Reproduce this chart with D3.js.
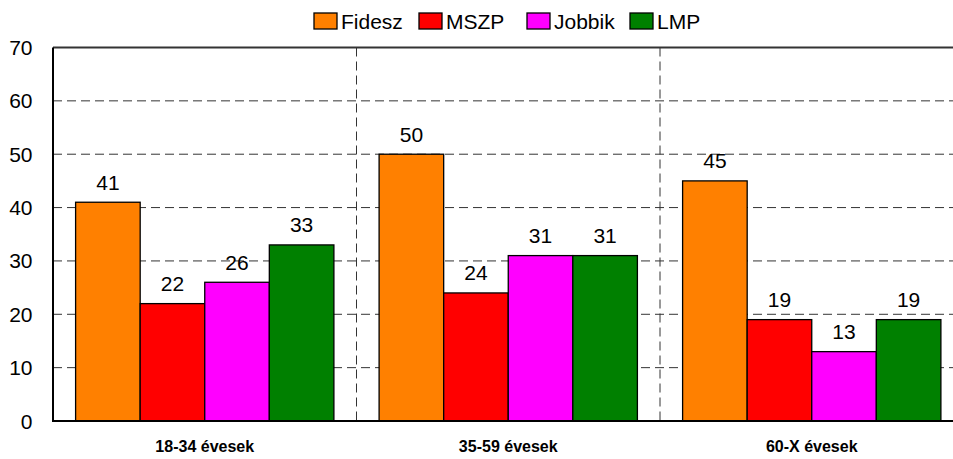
<!DOCTYPE html>
<html>
<head>
<meta charset="utf-8">
<script src="https://cdn.jsdelivr.net/npm/d3@7"></script>
<style>
  body { margin: 0; background: #fff; }
  text { font-family: "Liberation Sans", Arial, sans-serif; }
</style>
</head>
<body>
<div id="chart"></div>
<script>
// data
var groups = ["18-34 évesek", "35-59 évesek", "60-X évesek"];
var parties = ["Fidesz", "MSZP", "Jobbik", "LMP"];
var colors = ["#FF8000", "#FF0000", "#FF00FF", "#008000"];
var fidesz = [41, 50, 45];
var mszp = [22, 24, 19];
var jobbik = [26, 31, 13];
var lmp = [33, 31, 19];
var yTicks = [0, 10, 20, 30, 40, 50, 60, 70];

var series = [fidesz, mszp, jobbik, lmp];

// set the dimensions and margins of the graph
var margin = {top: 47.5, left: 53},
    width = 910.5,
    height = 373.5;

var svg = d3.select("#chart")
  .append("svg")
    .attr("width", 953)
    .attr("height", 459)
  .append("g")
    .attr("transform", "translate(" + margin.left + "," + margin.top + ")");

var x0 = d3.scaleBand()
  .domain(groups)
  .range([0, width]);

var pad = 22.6;
var x1 = d3.scaleBand()
  .domain(parties)
  .range([pad, x0.bandwidth() - pad]);

var y = d3.scaleLinear()
  .domain([0, 70])
  .range([height, 0]);

// horizontal dashed grid
svg.append("g")
  .selectAll("line")
  .data(yTicks.filter(d => d > 0 && d < 70))
  .enter()
  .append("line")
    .attr("x1", 0)
    .attr("x2", width)
    .attr("y1", d => y(d))
    .attr("y2", d => y(d))
    .style("stroke", "#333")
    .style("stroke-width", 1)
    .style("stroke-dasharray", "9,5");

// vertical dashed separators
svg.append("g")
  .selectAll("line")
  .data(groups.slice(1))
  .enter()
  .append("line")
    .attr("x1", d => x0(d))
    .attr("x2", d => x0(d))
    .attr("y1", 0)
    .attr("y2", height)
    .style("stroke", "#333")
    .style("stroke-width", 1)
    .style("stroke-dasharray", "9,5");

// top border
svg.append("line")
  .attr("x1", 0).attr("x2", width)
  .attr("y1", y(70)).attr("y2", y(70))
  .style("stroke", "#333")
  .style("stroke-width", 2);

// bars
var rows = [];
groups.forEach(function (g, gi) {
  parties.forEach(function (p, pi) {
    rows.push({group: g, party: p, value: series[pi][gi], color: colors[pi]});
  });
});

var bars = svg.append("g")
  .selectAll("g")
  .data(rows)
  .enter()
  .append("g")
    .attr("transform", d => "translate(" + x0(d.group) + ",0)");

bars.append("rect")
  .attr("x", d => x1(d.party))
  .attr("y", d => y(d.value))
  .attr("width", x1.bandwidth())
  .attr("height", d => height - y(d.value))
  .style("fill", d => d.color)
  .style("stroke", "#000")
  .style("stroke-width", 1.3);

bars.append("text")
  .attr("x", d => x1(d.party) + x1.bandwidth() / 2)
  .attr("y", d => y(d.value) - 12.5)
  .attr("text-anchor", "middle")
  .style("font-size", "21px")
  .text(d => d.value);

// y axis labels
svg.append("g")
  .selectAll("text")
  .data(yTicks)
  .enter()
  .append("text")
    .attr("x", -20.5)
    .attr("y", d => y(d))
    .attr("dy", "0.36em")
    .attr("text-anchor", "end")
    .style("font-size", "21px")
    .text(d => d);

// axes lines
svg.append("line")
  .attr("x1", 0).attr("x2", 0)
  .attr("y1", 0).attr("y2", height)
  .style("stroke", "#000")
  .style("stroke-width", 2);
svg.append("line")
  .attr("x1", -1).attr("x2", width)
  .attr("y1", height).attr("y2", height)
  .style("stroke", "#000")
  .style("stroke-width", 2);

// category labels
svg.append("g")
  .selectAll("text")
  .data(groups)
  .enter()
  .append("text")
    .attr("x", d => x0(d) + x0.bandwidth() / 2)
    .attr("y", height + 31)
    .attr("text-anchor", "middle")
    .style("font-size", "16px")
    .style("font-weight", "bold")
    .text(d => d);

// legend
var legendX = [314, 419, 527, 630];
var legend = d3.select("svg").append("g");
parties.forEach(function (p, i) {
  legend.append("rect")
    .attr("x", legendX[i]).attr("y", 13)
    .attr("width", 23).attr("height", 16)
    .style("fill", colors[i])
    .style("stroke", "#000")
    .style("stroke-width", 1.3);
  legend.append("text")
    .attr("x", legendX[i] + 27).attr("y", 28.5)
    .style("font-size", "21px")
    .text(p);
});
</script>
</body>
</html>
